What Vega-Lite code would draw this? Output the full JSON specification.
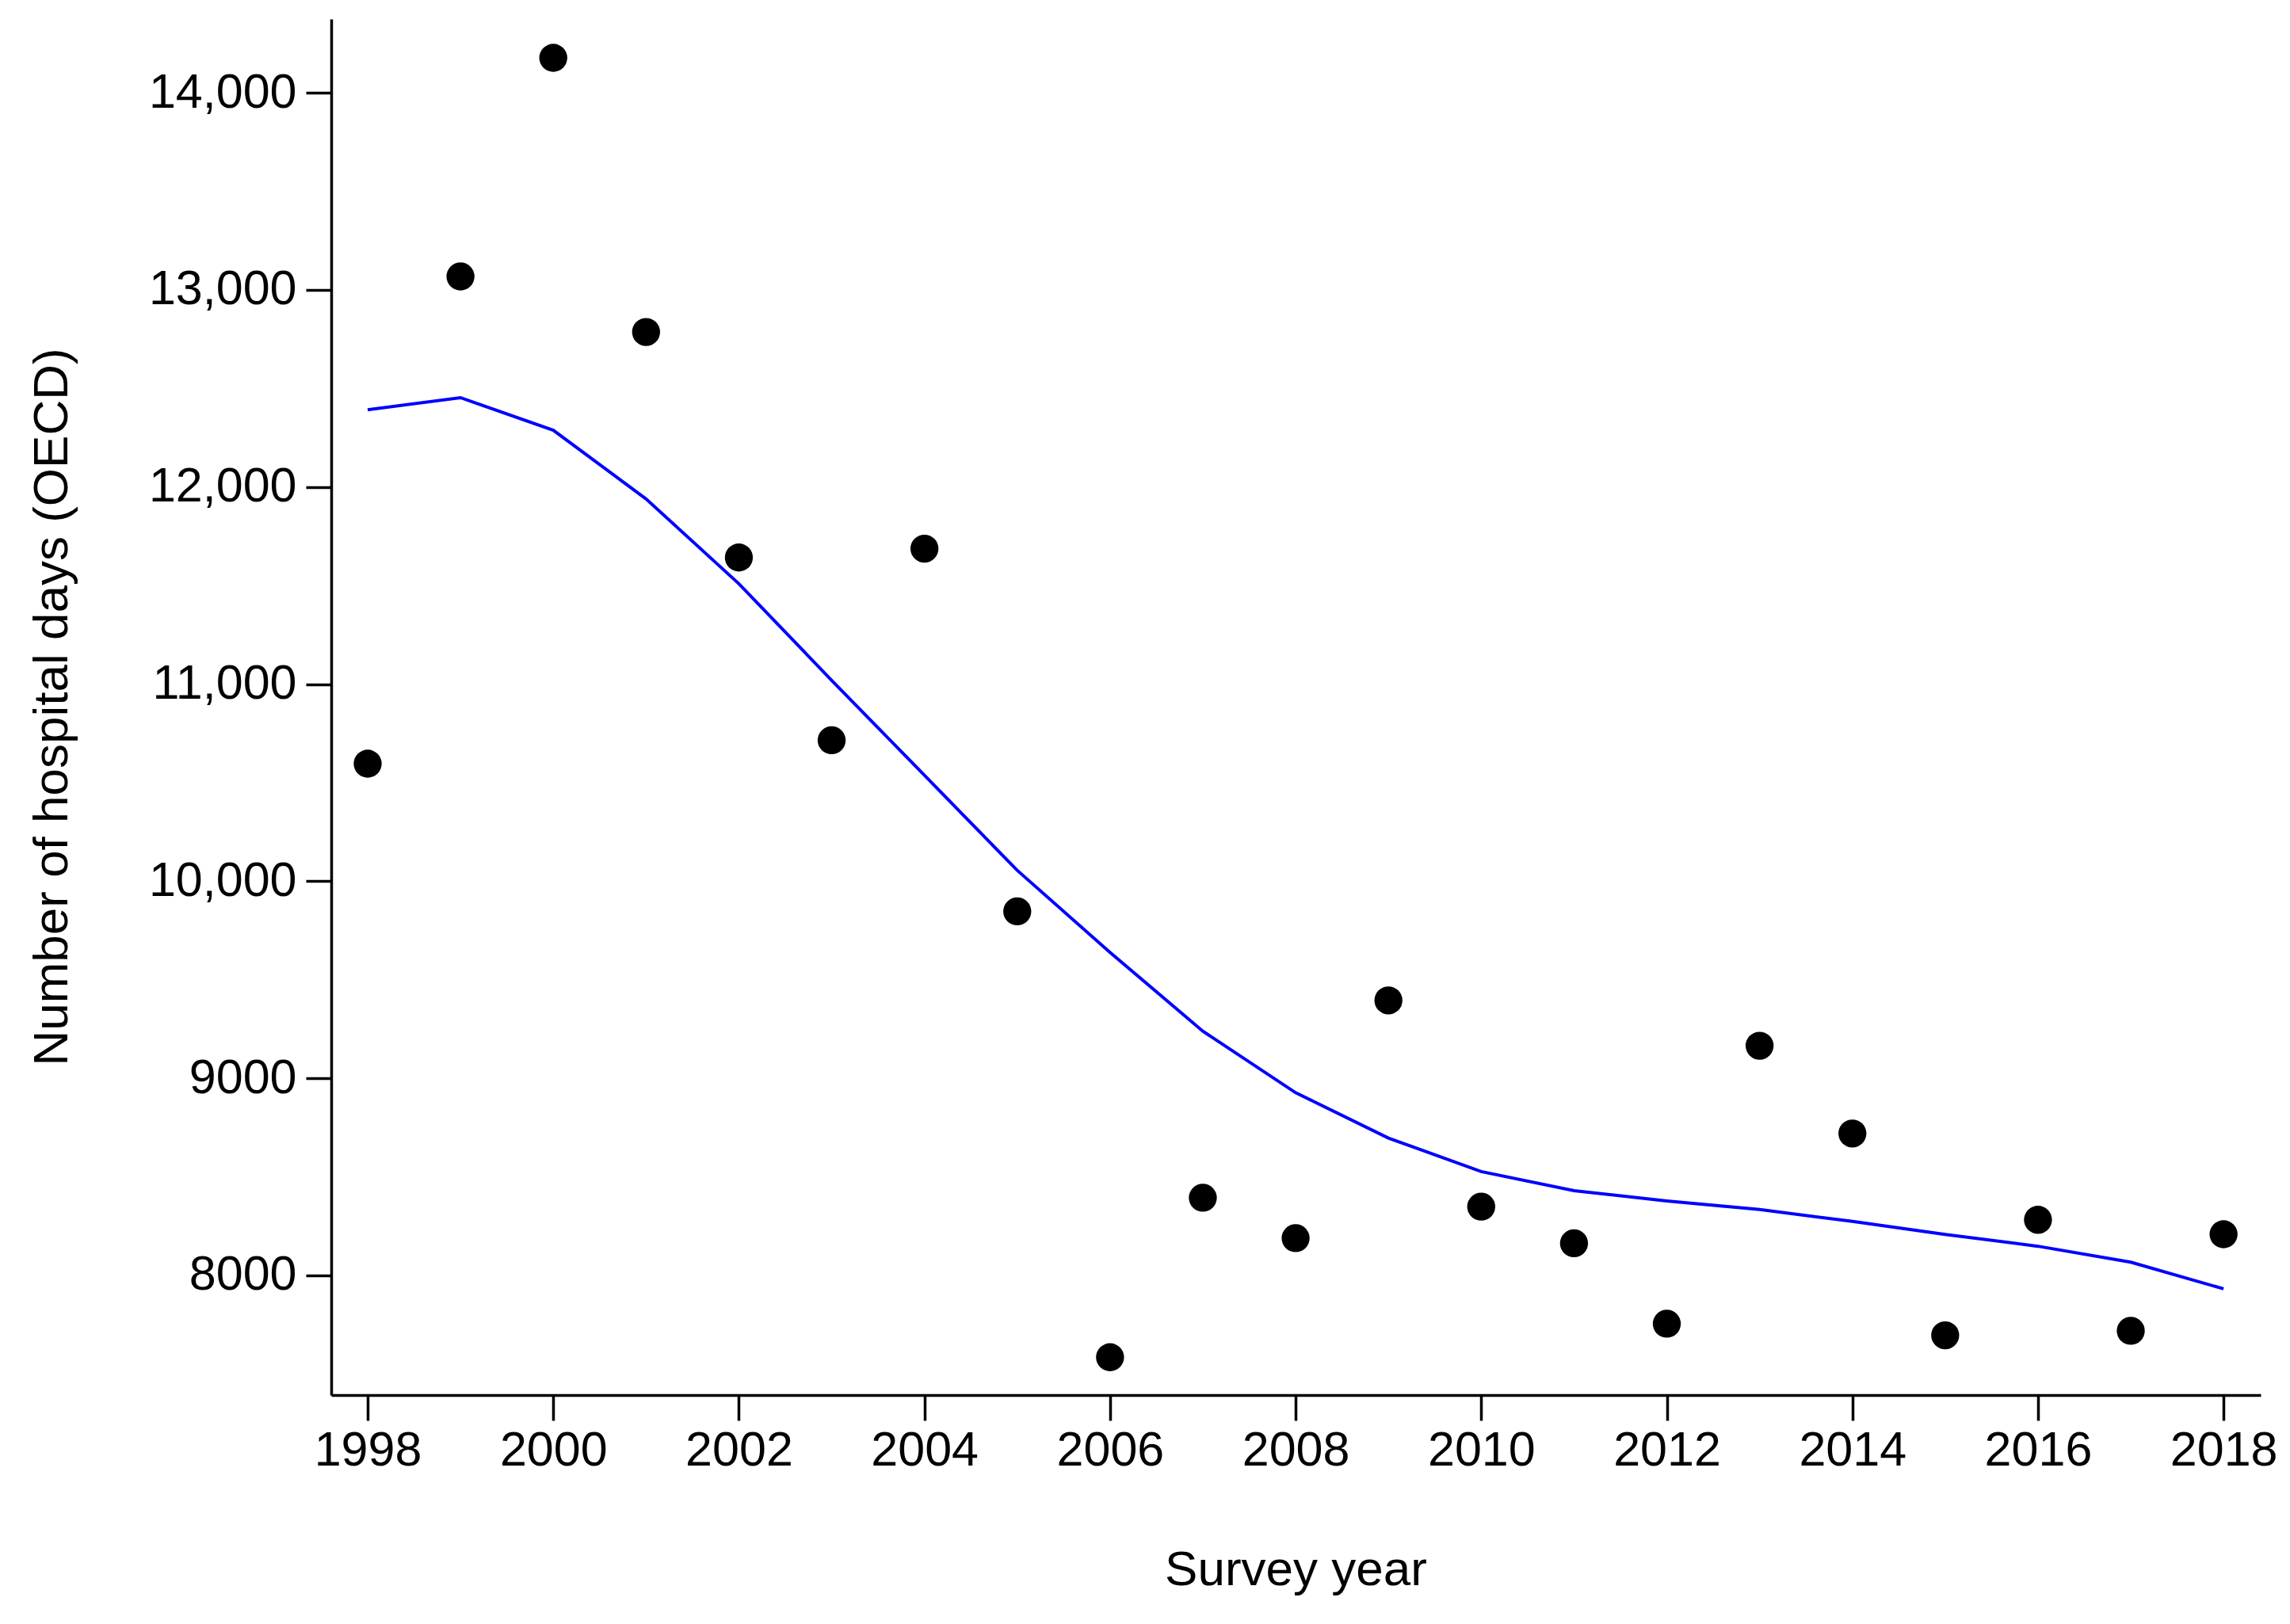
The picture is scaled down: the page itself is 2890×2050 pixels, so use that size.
{
  "$schema": "https://vega.github.io/schema/vega-lite/v6.json",
  "width": 2435,
  "height": 1737,
  "autosize": {"type": "none"},
  "padding": {"left": 418, "top": 24, "right": 37, "bottom": 289},
  "background": "white",
  "config": {
    "view": {"stroke": null},
    "font": "Liberation Sans",
    "axis": {
      "domainColor": "black",
      "domainWidth": 3.5,
      "tickColor": "black",
      "tickWidth": 3.5,
      "tickSize": 32,
      "grid": false,
      "labelFont": "Liberation Sans",
      "labelFontSize": 61,
      "labelColor": "black",
      "labelLimit": 0,
      "titleFont": "Liberation Sans",
      "titleFontSize": 62,
      "titleFontWeight": "normal",
      "titleColor": "black",
      "titleLimit": 0
    }
  },
  "data": {
    "values": [
      {"year": 1998, "days": 10596, "fit": 12392},
      {"year": 1999, "days": 13068, "fit": 12453},
      {"year": 2000, "days": 14177, "fit": 12288},
      {"year": 2001, "days": 12786, "fit": 11939},
      {"year": 2002, "days": 11642, "fit": 11509},
      {"year": 2003, "days": 10715, "fit": 11019},
      {"year": 2004, "days": 11687, "fit": 10537},
      {"year": 2005, "days": 9847, "fit": 10055},
      {"year": 2006, "days": 7585, "fit": 9639},
      {"year": 2007, "days": 8394, "fit": 9239},
      {"year": 2008, "days": 8189, "fit": 8927},
      {"year": 2009, "days": 9395, "fit": 8697},
      {"year": 2010, "days": 8349, "fit": 8527},
      {"year": 2011, "days": 8163, "fit": 8430},
      {"year": 2012, "days": 7755, "fit": 8378},
      {"year": 2013, "days": 9165, "fit": 8334},
      {"year": 2014, "days": 8720, "fit": 8274},
      {"year": 2015, "days": 7696, "fit": 8208},
      {"year": 2016, "days": 8282, "fit": 8148},
      {"year": 2017, "days": 7719, "fit": 8067},
      {"year": 2018, "days": 8209, "fit": 7932}
    ]
  },
  "encoding": {
    "x": {
      "field": "year",
      "type": "quantitative",
      "scale": {"domain": [1997.607, 2018.4], "nice": false, "zero": false},
      "axis": {
        "title": "Survey year",
        "values": [1998, 2000, 2002, 2004, 2006, 2008, 2010, 2012, 2014, 2016, 2018],
        "format": "d",
        "labelPadding": 8,
        "titleX": 1217,
        "titleY": 220,
        "titleBaseline": "middle",
        "titleAlign": "center"
      }
    }
  },
  "layer": [
    {
      "mark": {"type": "line", "color": "#0000FF", "strokeWidth": 4, "clip": true},
      "encoding": {
        "y": {
          "field": "fit",
          "type": "quantitative",
          "scale": {"domain": [7393, 14374], "nice": false, "zero": false},
          "axis": {
            "title": "Number of hospital days (OECD)",
            "values": [8000, 9000, 10000, 11000, 12000, 13000, 14000],
            "labelExpr": "datum.value >= 10000 ? format(datum.value, ',') : format(datum.value, 'd')",
            "labelPadding": 12,
            "titleX": -353,
            "titleY": 868,
            "titleBaseline": "middle",
            "titleAlign": "center",
            "titleAngle": -90
          }
        }
      }
    },
    {
      "mark": {"type": "circle", "color": "black", "opacity": 1, "size": 1250},
      "encoding": {
        "y": {"field": "days", "type": "quantitative"}
      }
    }
  ]
}
